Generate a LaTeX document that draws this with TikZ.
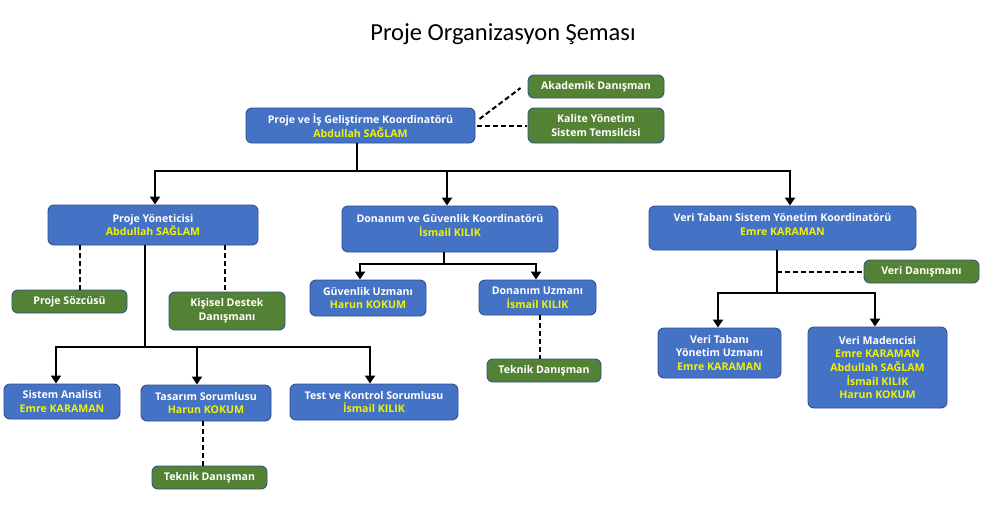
\documentclass[tikz,border=0pt]{standalone}
\usepackage{fontspec}
\setmainfont{Open Sans}
\newfontfamily\titlefont{Carlito}
\usetikzlibrary{arrows.meta}
\definecolor{boxblue}{HTML}{4472C4}
\definecolor{boxgreen}{HTML}{548235}
\definecolor{boxline}{HTML}{2F528F}
\definecolor{ylw}{HTML}{F2F200}
\tikzset{
  base/.style={draw=boxline, line width=0.9pt, rounded corners=6pt, align=center,
    text=white, inner sep=1pt, font=\bfseries\fontsize{10.6}{13.6}\selectfont},
  bluebox/.style={base, fill=boxblue},
  greenbox/.style={base, fill=boxgreen},
  sz/.style 2 args={minimum width=#1pt, minimum height=#2pt},
  solidline/.style={line width=2.6pt, black},
  arrowline/.style={solidline, -{Triangle[width=10pt,length=8pt]}},
  dashline/.style={line width=2pt, black, dash pattern=on 5pt off 3pt}
}
\newcommand{\yl}[1]{\textcolor{ylw}{#1}}
\begin{document}
\begin{tikzpicture}[x=1pt,y=-1pt]
\useasboundingbox (0,0) rectangle (990,512);
\fill[white] (0,0) rectangle (990,512);

\node[font=\titlefont\fontsize{24.5}{28}\selectfont] (title) at (503,34) {Proje Organizasyon Şeması};

\node[bluebox, sz={229}{35}] (top) at (360.5,125.5) {Proje ve İş Geliştirme Koordinatörü\\\yl{Abdullah SAĞLAM}};
\node[greenbox, sz={136}{23}] (akad) at (596,86.5) {Akademik Danışman};
\node[greenbox, sz={136}{35}] (kalite) at (596,125.5) {Kalite Yönetim\\Sistem Temsilcisi};

\node[bluebox, sz={210}{40}] (py) at (153,225) {Proje Yöneticisi\\\yl{Abdullah SAĞLAM}};
\node[bluebox, sz={216}{46}] (dg) at (450,229) {Donanım ve Güvenlik Koordinatörü\\\yl{İsmail KILIK}\\[-6pt]\mbox{}};
\node[bluebox, sz={267}{44}] (vt) at (782.5,228) {Veri Tabanı Sistem Yönetim Koordinatörü\\\yl{Emre KARAMAN}\\[-6pt]\mbox{}};

\node[greenbox, sz={115}{23}] (sozcu) at (69.5,301.5) {Proje Sözcüsü};
\node[greenbox, sz={116}{38}] (kisisel) at (227,311) {Kişisel Destek\\Danışmanı};
\node[bluebox, sz={116}{36}] (guv) at (368,298) {Güvenlik Uzmanı\\\yl{Harun KOKUM}};
\node[bluebox, sz={117}{35}] (don) at (537.5,297.5) {Donanım Uzmanı\\\yl{İsmail KILIK}};
\node[greenbox, sz={114}{23}] (tekn1) at (544,370.5) {Teknik Danışman};
\node[greenbox, sz={115}{23}] (vdan) at (921.5,271.5) {Veri Danışmanı};
\node[bluebox, sz={123}{50}] (vty) at (719.5,353) {Veri Tabanı\\Yönetim Uzmanı\\\yl{Emre KARAMAN}};
\node[bluebox, sz={139}{81}] (vm) at (877.5,367.5) {Veri Madencisi\\\yl{Emre KARAMAN}\\\yl{Abdullah SAĞLAM}\\\yl{İsmail KILIK}\\\yl{Harun KOKUM}};

\node[bluebox, sz={116}{35}] (sa) at (62,401.5) {Sistem Analisti\\\yl{Emre KARAMAN}};
\node[bluebox, sz={130}{36}] (tas) at (206,403) {Tasarım Sorumlusu\\\yl{Harun KOKUM}};
\node[bluebox, sz={168}{36}] (test) at (374,402) {Test ve Kontrol Sorumlusu\\\yl{İsmail KILIK}};
\node[greenbox, sz={115}{23}] (tekn2) at (209.5,477.5) {Teknik Danışman};

% bus coordinates
\coordinate (bus1) at (0,171);
\coordinate (bus2) at (0,347);
\coordinate (bus3) at (0,264);
\coordinate (bus4) at (0,293);

% top level
\draw[solidline] ([xshift=-3.5]top.south) -- ([xshift=-3.5]top.south |- bus1);
\draw[solidline, line cap=rect] ([xshift=2]py.north |- bus1) -- ([xshift=7.5]vt.north |- bus1);
\draw[arrowline] ([xshift=2]py.north |- bus1) -- ([xshift=2]py.north);
\draw[arrowline] ([xshift=-3]dg.north |- bus1) -- ([xshift=-3]dg.north);
\draw[arrowline] ([xshift=7.5]vt.north |- bus1) -- ([xshift=7.5]vt.north);

% dashed from top
\draw[dashline] ([shift={(4,-6.5)}]top.east) -- ([shift={(-7,1.5)}]akad.west);
\draw[dashline] ([xshift=2]top.east) -- ([xshift=-1]kalite.west);

% Proje Yoneticisi branch
\draw[solidline] ([xshift=-8]py.south) -- ([xshift=-8]py.south |- bus2);
\draw[solidline, line cap=rect] ([xshift=-6]sa.north |- bus2) -- ([xshift=-4]test.north |- bus2);
\draw[arrowline] ([xshift=-6]sa.north |- bus2) -- ([xshift=-6]sa.north);
\draw[arrowline] ([xshift=-9]tas.north |- bus2) -- ([xshift=-9]tas.north);
\draw[arrowline] ([xshift=-4]test.north |- bus2) -- ([xshift=-4]test.north);
\draw[dashline] ([xshift=10.5]sozcu.north |- py.south) -- ([xshift=10.5]sozcu.north);
\draw[dashline] ([xshift=-2]kisisel.north |- py.south) -- ([xshift=-2]kisisel.north);
\draw[dashline] ([xshift=-6.5]tekn2.north |- tas.south) -- ([xshift=-6.5]tekn2.north);

% Donanim branch
\draw[solidline] ([xshift=-6]dg.south) -- ([xshift=-6]dg.south |- bus3);
\draw[solidline, line cap=rect] ([xshift=-8]guv.north |- bus3) -- ([xshift=-1.5]don.north |- bus3);
\draw[arrowline] ([xshift=-8]guv.north |- bus3) -- ([xshift=-8]guv.north);
\draw[arrowline] ([xshift=-1.5]don.north |- bus3) -- ([xshift=-1.5]don.north);
\draw[dashline] ([xshift=2.5]don.south) -- ([xshift=2.5]don.south |- tekn1.north);

% Veri branch
\draw[solidline] ([xshift=-5.5]vt.south) -- ([xshift=-5.5]vt.south |- bus4);
\draw[solidline, line cap=rect] ([xshift=-1.5]vty.north |- bus4) -- ([xshift=-2.5]vm.north |- bus4);
\draw[arrowline] ([xshift=-1.5]vty.north |- bus4) -- ([xshift=-1.5]vty.north);
\draw[arrowline] ([xshift=-2.5]vm.north |- bus4) -- ([xshift=-2.5]vm.north);
\draw[dashline] ([xshift=-5.5]vt.south |- vdan.west) -- (vdan.west);
\end{tikzpicture}
\end{document}
